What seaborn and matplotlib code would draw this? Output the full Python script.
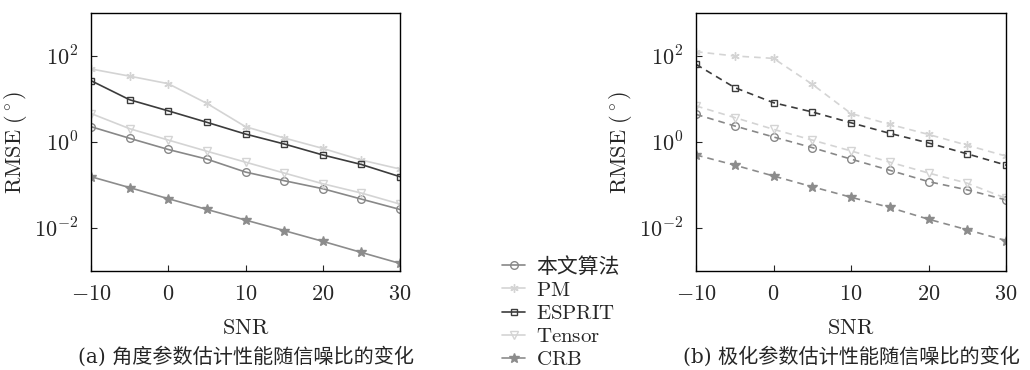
import numpy as np
import pandas as pd
import seaborn as sns
import matplotlib.pyplot as plt
from matplotlib.ticker import FixedLocator, FuncFormatter, NullLocator

snr = [-10, -5, 0, 5, 10, 15, 20, 25, 30]
methods = ['本文算法', 'PM', 'ESPRIT', 'Tensor', 'CRB']
legend_labels = ['本文算法', r'$\mathrm{PM}$', r'$\mathrm{ESPRIT}$', r'$\mathrm{Tensor}$', r'$\mathrm{CRB}$']

# (a) angle estimation RMSE
angle_ours   = [2.27, 1.22, 0.67, 0.40, 0.20, 0.126, 0.082, 0.047, 0.027]
angle_pm     = [50, 34, 22.7, 7.9, 2.27, 1.24, 0.71, 0.38, 0.235]
angle_esprit = [26.7, 9.6, 5.3, 2.87, 1.53, 0.90, 0.50, 0.30, 0.156]
angle_tensor = [4.6, 2.04, 1.11, 0.61, 0.34, 0.19, 0.107, 0.065, 0.036]
angle_crb    = [0.156, 0.087, 0.048, 0.027, 0.0153, 0.0087, 0.0049, 0.0027, 0.0015]

# (b) polarization estimation RMSE
pol_ours   = [4.4, 2.36, 1.31, 0.74, 0.40, 0.22, 0.12, 0.077, 0.045]
pol_pm     = [126, 100, 88, 22, 4.6, 2.57, 1.5, 0.84, 0.47]
pol_esprit = [64, 18.4, 8.2, 5.0, 2.8, 1.59, 0.95, 0.53, 0.29]
pol_tensor = [6.9, 3.7, 1.97, 1.11, 0.62, 0.34, 0.19, 0.11, 0.049]
pol_crb    = [0.50, 0.29, 0.162, 0.091, 0.052, 0.030, 0.016, 0.0091, 0.0051]

captions = ['(a) 角度参数估计性能随信噪比的变化', '(b) 极化参数估计性能随信噪比的变化']

sns.set_style('ticks')
plt.rcParams['mathtext.fontset'] = 'cm'
plt.rcParams['font.family'] = ['DejaVu Serif', 'Noto Sans CJK SC']
plt.rcParams['xtick.direction'] = 'in'
plt.rcParams['ytick.direction'] = 'in'

styles = {
    '本文算法': dict(color='#888888', marker='o', mfc='none', ms=5.5),
    'PM':     dict(color='#d4d4d4', marker=(6, 2, 0), mfc='#d4d4d4', ms=6),
    'ESPRIT': dict(color='#3c3c3c', marker='s', mfc='none', ms=5),
    'Tensor': dict(color='#d4d4d4', marker='v', mfc='none', ms=6),
    'CRB':    dict(color='#8c8c8c', marker='*', mfc='#8c8c8c', ms=7),
}

fig = plt.figure(figsize=(10.3, 3.7), dpi=100)
ax1 = fig.add_axes([91/1030, 1-271/370, 309/1030, 258/370])
ax2 = fig.add_axes([696/1030, 1-271/370, 310/1030, 258/370])

panels = [
    (ax1, [angle_ours, angle_pm, angle_esprit, angle_tensor, angle_crb], '-'),
    (ax2, [pol_ours, pol_pm, pol_esprit, pol_tensor, pol_crb], (0, (4, 3))),
]

for (ax, series, ls), cap in zip(panels, captions):
    for name, lab, vals in zip(methods, legend_labels, series):
        st = styles[name]
        sns.lineplot(x=snr, y=vals, ax=ax, label=lab, color=st['color'],
                     linestyle=ls, linewidth=1.2, marker=st['marker'],
                     markerfacecolor=st['mfc'], markeredgecolor=st['color'],
                     markersize=st['ms'], markeredgewidth=1.0)
    ax.set_yscale('log')
    ax.set_ylim(1e-3, 1e3)
    ax.set_xlim(-10, 30)
    ax.yaxis.set_major_locator(FixedLocator([1e-2, 1e0, 1e2]))
    ax.yaxis.set_minor_locator(NullLocator())
    ax.yaxis.set_major_formatter(FuncFormatter(lambda v, p: r'$10^{%d}$' % round(np.log10(v))))
    ax.xaxis.set_major_locator(FixedLocator([-10, 0, 10, 20, 30]))
    ax.xaxis.set_major_formatter(FuncFormatter(lambda v, p: r'$%d$' % v))
    ax.tick_params(labelsize=16, length=4, width=0.8, pad=9)
    for sp in ax.spines.values():
        sp.set_visible(True)
        sp.set_linewidth(1.0)
        sp.set_color('black')
    ax.set_xlabel(r'$\mathrm{SNR}$', fontsize=16, labelpad=8)
    ax.set_ylabel(r'$\mathrm{RMSE}\ (^\circ)$', fontsize=16, labelpad=4)
    ax.get_legend().remove()
    x0 = (ax.get_position().x0 + ax.get_position().x1) / 2
    fig.text(x0, 1 - 357/370, cap, ha='center', va='center', fontsize=14.5,
             family=['DejaVu Serif', 'Noto Sans CJK SC'])

handles, labels = ax1.get_legend_handles_labels()
fig.legend(handles, labels, loc='center left', bbox_to_anchor=(492/1030, 1 - 313/370),
           frameon=False, handlelength=1.1, handletextpad=0.5,
           labelspacing=0.2, borderpad=0,
           prop={'family': ['DejaVu Serif', 'Noto Sans CJK SC'], 'size': 15})

fig.savefig('out.png', dpi=100)
